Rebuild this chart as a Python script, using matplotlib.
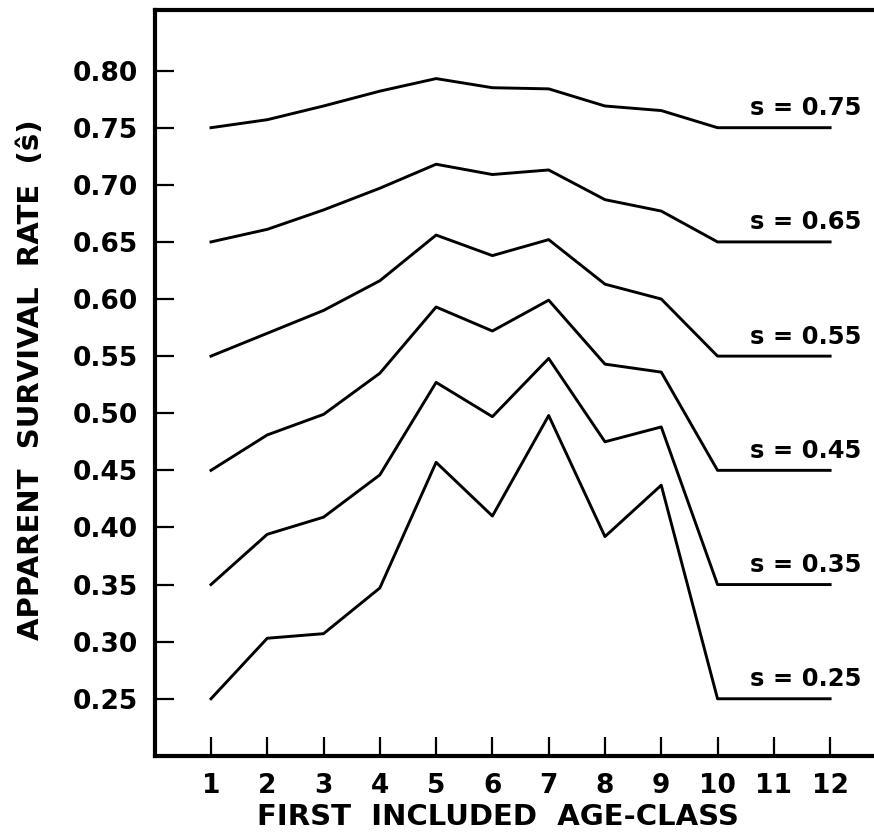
import matplotlib
matplotlib.use("Agg")
import matplotlib.pyplot as plt

# first included age-class
age_class = [1, 2, 3, 4, 5, 6, 7, 8, 9, 10, 11, 12]

# apparent survival rate for each true survival rate s
s_075 = [0.750, 0.757, 0.769, 0.782, 0.793, 0.785, 0.784, 0.769, 0.765, 0.750, 0.750, 0.750]
s_065 = [0.650, 0.661, 0.678, 0.697, 0.718, 0.709, 0.713, 0.687, 0.677, 0.650, 0.650, 0.650]
s_055 = [0.550, 0.570, 0.590, 0.616, 0.656, 0.638, 0.652, 0.613, 0.600, 0.550, 0.550, 0.550]
s_045 = [0.450, 0.481, 0.499, 0.535, 0.593, 0.572, 0.599, 0.543, 0.536, 0.450, 0.450, 0.450]
s_035 = [0.350, 0.394, 0.409, 0.446, 0.527, 0.497, 0.548, 0.475, 0.488, 0.350, 0.350, 0.350]
s_025 = [0.250, 0.303, 0.307, 0.347, 0.457, 0.410, 0.498, 0.392, 0.437, 0.250, 0.250, 0.250]

true_s = [0.75, 0.65, 0.55, 0.45, 0.35, 0.25]
series = [s_075, s_065, s_055, s_045, s_035, s_025]
labels = ["s = 0.75", "s = 0.65", "s = 0.55", "s = 0.45", "s = 0.35", "s = 0.25"]

y_ticks = [0.25, 0.30, 0.35, 0.40, 0.45, 0.50, 0.55, 0.60, 0.65, 0.70, 0.75, 0.80]

plt.rcParams["font.family"] = "DejaVu Sans"
plt.rcParams["font.weight"] = "bold"

fig = plt.figure(figsize=(8.74, 8.38), dpi=100)
ax = fig.add_axes([0.177, 0.098, 0.823, 0.890])

for s, vals, lab in zip(true_s, series, labels):
    ax.plot(age_class, vals, color="black", linewidth=2.1)
    ax.text(12.55, s + 0.011, lab, ha="right", va="baseline",
            fontsize=17.5, fontweight="bold")

ax.set_xlim(0, 12.78)
ax.set_ylim(0.20, 0.853)
ax.set_xticks(age_class)
ax.set_xticklabels([str(a) for a in age_class])
ax.set_yticks(y_ticks)
ax.set_yticklabels(["%.2f" % v for v in y_ticks])

ax.tick_params(direction="in", length=14, width=1.6, labelsize=19, pad=12)
ax.spines["right"].set_visible(False)
for side in ["left", "bottom", "top"]:
    ax.spines[side].set_linewidth(3.0)

fig.text(0.57, 0.025, "FIRST  INCLUDED  AGE-CLASS", ha="center", va="center",
         fontsize=21, fontweight="bold")
fig.text(0.035, 0.547, "APPARENT  SURVIVAL  RATE  (ŝ)", ha="center", va="center",
         rotation=90, fontsize=21, fontweight="bold")

fig.savefig("out.png", dpi=100)
